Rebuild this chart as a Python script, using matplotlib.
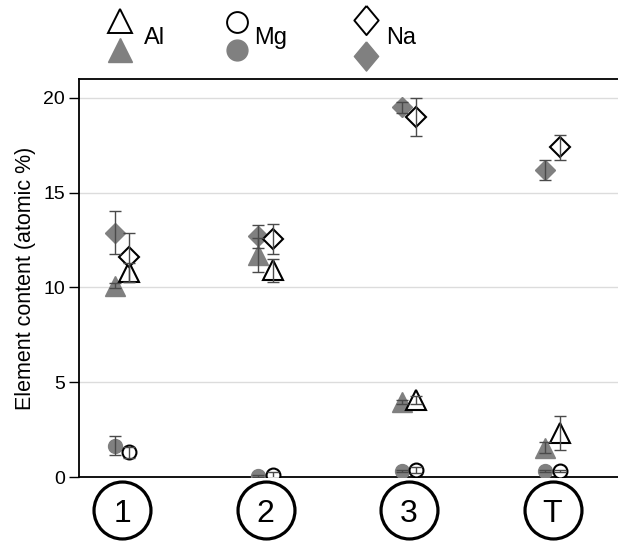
import matplotlib
matplotlib.use("Agg")
import matplotlib.pyplot as plt
import matplotlib.transforms as mtransforms
from matplotlib.lines import Line2D
import numpy as np

plt.rcParams['font.family'] = ['Liberation Sans', 'DejaVu Sans']

# Samples and measured element contents (atomic %), mean and error
categories = ['1', '2', '3', 'T']

al_filled = [10.1, 11.7, 3.95, 1.55]
al_filled_err = [0.15, 0.9, 0.1, 0.3]
al_open = [10.8, 10.9, 4.05, 2.3]
al_open_err = [0.5, 0.6, 0.2, 0.9]

mg_filled = [1.65, 0.05, 0.3, 0.3]
mg_filled_err = [0.5, 0.05, 0.05, 0.05]
mg_open = [1.3, 0.1, 0.37, 0.33]
mg_open_err = [0.3, 0.15, 0.15, 0.05]

na_filled = [12.9, 12.7, 19.5, 16.2]
na_filled_err = [1.15, 0.6, 0.3, 0.55]
na_open = [11.6, 12.55, 19.0, 17.4]
na_open_err = [1.3, 0.8, 1.0, 0.65]

yticks = [0, 5, 10, 15, 20]

GRAY = '#808080'
ERR = '#4a4a4a'

fig = plt.figure(figsize=(6.18, 5.41), dpi=100)
ax = fig.add_axes([79 / 618, 64 / 541, 1 - 79 / 618, 398 / 541])

x = np.arange(len(categories))
off = 0.05

series = [
    (al_filled, al_filled_err, al_open, al_open_err, '^', 14),
    (mg_filled, mg_filled_err, mg_open, mg_open_err, 'o', 10),
    (na_filled, na_filled_err, na_open, na_open_err, 'D', 10),
]

for vf, ef, vo, eo, mk, ms in series:
    ax.plot(x - off, vf, linestyle='none', marker=mk, markersize=ms,
            markerfacecolor=GRAY, markeredgecolor=GRAY, zorder=3)
    ax.plot(x + off, vo, linestyle='none', marker=mk, markersize=ms,
            markerfacecolor='white', markeredgecolor='black',
            markeredgewidth=1.5, zorder=4)

for vf, ef, vo, eo, mk, ms in series:
    ax.errorbar(x - off, vf, yerr=ef, fmt='none', ecolor=ERR,
                elinewidth=1.0, capsize=4, capthick=1.0, zorder=5)
    ax.errorbar(x + off, vo, yerr=eo, fmt='none', ecolor=ERR,
                elinewidth=1.0, capsize=4, capthick=1.0, zorder=5)

ax.set_xlim(-0.30, 3.456)
ax.set_ylim(0, 21)
ax.set_yticks(yticks)
ax.tick_params(axis='y', direction='out', length=7, width=1, labelsize=14, pad=3)
ax.yaxis.grid(True, color='#dcdcdc', linewidth=1)
ax.set_axisbelow(True)
ax.set_ylabel('Element content (atomic %)', fontsize=15.5, labelpad=5)

# circled category labels under the axis
ax.set_xticks(x)
ax.set_xticklabels([])
ax.tick_params(axis='x', length=0)
trans = mtransforms.blended_transform_factory(ax.transData, ax.transAxes)
for xi, lab in zip(x, categories):
    ax.plot([xi], [-0.083], marker='o', markersize=41, markerfacecolor='white',
            markeredgecolor='black', markeredgewidth=2.3, transform=trans,
            clip_on=False, zorder=6)
    ax.text(xi, -0.083, lab, transform=trans, ha='center', va='center_baseline',
            fontsize=23, zorder=7)

for side in ['left', 'top', 'bottom']:
    ax.spines[side].set_color('black')
    ax.spines[side].set_linewidth(1.3)
ax.spines['right'].set_visible(False)

# legend: open marker stacked above filled marker, element name beside
tall_diamond = [(0, 1.2), (1, 0), (0, -1.2), (-1, 0), (0, 1.2)]
legend_items = [
    ('Al', '^', 17, 17, 120, 21, 50, 144),
    ('Mg', 'o', 15, 15, 237, 22, 50, 254),
    ('Na', tall_diamond, 21, 21, 366, 20, 56, 386),
]
W, H = 618.0, 541.0
for name, mk, ms_o, ms_f, px, py_o, py_f, tx in legend_items:
    fig.add_artist(Line2D([px / W], [1 - py_o / H], marker=mk, markersize=ms_o,
                          markerfacecolor='white', markeredgecolor='black',
                          markeredgewidth=1.4, linestyle='none',
                          transform=fig.transFigure))
    fig.add_artist(Line2D([px / W], [1 - py_f / H], marker=mk, markersize=ms_f,
                          markerfacecolor=GRAY, markeredgecolor=GRAY,
                          linestyle='none', transform=fig.transFigure))
    fig.text(tx / W, 1 - 38 / H, name, fontsize=17, ha='left', va='center')

fig.savefig('out.png', dpi=100)
